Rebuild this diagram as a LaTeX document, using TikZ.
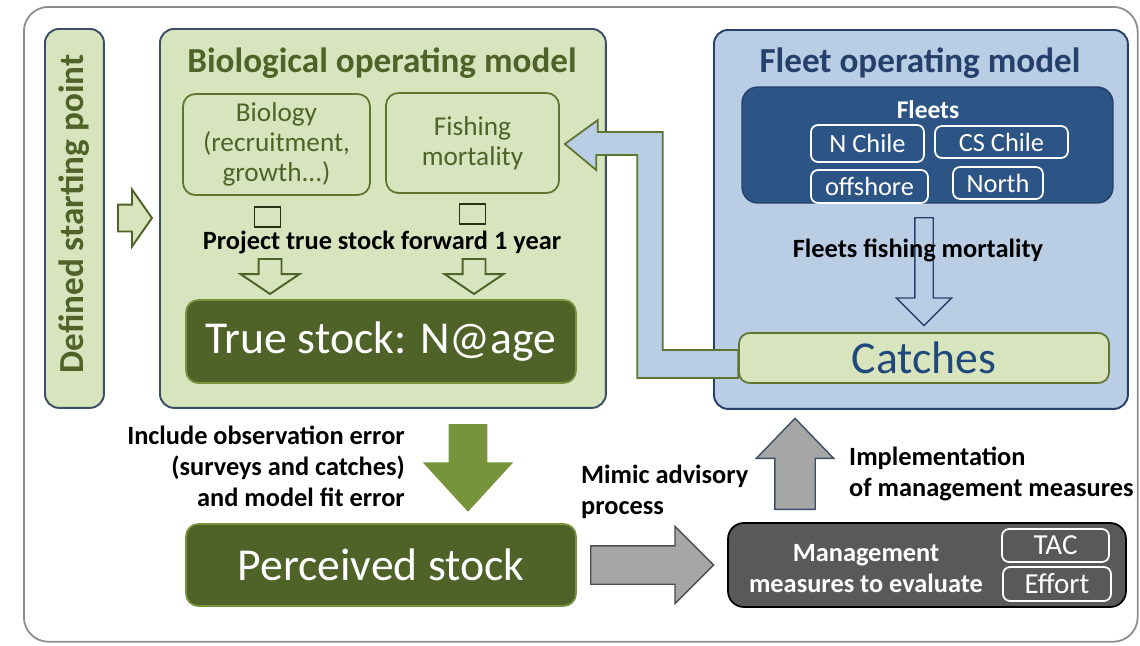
\documentclass[tikz,border=0pt]{standalone}
\usepackage{fontspec}
\setmainfont{Carlito}
\usetikzlibrary{arrows.meta,calc,positioning,shapes.arrows}
\definecolor{biofill}{RGB}{215,228,189}
\definecolor{olivetext}{RGB}{79,98,40}
\definecolor{oliveedge}{RGB}{94,117,50}
\definecolor{stockfill}{RGB}{79,98,40}
\definecolor{arrowgreen}{RGB}{119,147,60}
\definecolor{fleetfill}{RGB}{185,205,229}
\definecolor{fleetdark}{RGB}{44,84,133}
\definecolor{navy}{RGB}{37,64,107}
\definecolor{catchtext}{RGB}{31,73,125}
\definecolor{panelline}{RGB}{59,80,104}
\definecolor{greyarrow}{RGB}{166,166,166}
\definecolor{mgmtfill}{RGB}{89,89,89}
\definecolor{framegrey}{RGB}{140,140,140}

\begin{document}
\begin{tikzpicture}[x=0.02cm,y=-0.02cm,
  panel/.style={draw=panelline,line width=1.1pt,rounded corners=8pt},
  subbox/.style={draw=oliveedge,line width=1pt,rounded corners=7pt,fill=biofill,
    text=olivetext,align=center,font=\fontsize{15.5}{17}\selectfont},
  stock/.style={fill=stockfill,draw=arrowgreen,line width=1pt,rounded corners=7pt,
    text=white,font=\fontsize{26}{30}\selectfont},
  fleetbtn/.style={draw=white,line width=1pt,rounded corners=4pt,text=white,
    inner sep=0pt,font=\fontsize{15}{17}\selectfont},
  title/.style={font=\fontsize{20}{24}\selectfont\bfseries},
  note/.style={font=\fontsize{15}{17.6}\selectfont\bfseries},
  blockarrow/.style={single arrow,inner xsep=0pt,minimum width=0pt,
    single arrow head indent=0pt,line width=0.8pt,anchor=tail},
  hollow/.style={blockarrow,draw=olivetext,line width=1.1pt,fill=biofill},
  stub/.style={draw=olivetext!50!black,line width=0.7pt,minimum width=0.52cm,
    minimum height=0.4cm,inner sep=0pt}
]
  \useasboundingbox (0,0) rectangle (1140,646);
  % ---------------- frame ----------------
  \node[draw=framegrey,line width=1pt,rounded corners=14pt,minimum width=22.28cm,
    minimum height=12.7cm,anchor=north west] (frame) at (23,6) {};

  % ---------------- starting point ----------------
  \node[panel,fill=biofill,minimum width=1.18cm,minimum height=7.58cm,
    anchor=north west] (start) at (44,28) {};
  \node[rotate=90,text=olivetext,title] (starttxt) at (74,214)
    {Defined starting point};
  \node[hollow,minimum height=0.68cm,inner ysep=0.25cm,
    single arrow head extend=0.3cm,single arrow tip angle=110]
    (startarr) at (117,218) {};

  % ---------------- biological operating model ----------------
  \node[panel,fill=biofill,minimum width=8.92cm,minimum height=7.58cm,
    anchor=north west] (bio) at (159,28) {};
  \node[text=olivetext,title] (biotitle) at (382,63) {Biological operating model};
  \node[subbox,minimum width=3.74cm,minimum height=2.02cm] (biology)
    at (276.5,144.5) {Biology\\(recruitment,\\growth...)};
  \node[subbox,minimum width=3.46cm,minimum height=2.0cm] (fishing)
    at (472.5,143) {Fishing\\mortality};
  \node[stub] (stubA) at (267.5,217) {};
  \node[stub] (stubB) at (472.5,214) {};
  \node[note] (project) at (382,242) {Project true stock forward 1 year};
  \node[hollow,rotate=-90,minimum height=0.7cm,inner ysep=0.21cm,
    single arrow head extend=0.36cm,single arrow tip angle=112]
    (downA) at (270,258) {};
  \node[hollow,rotate=-90,minimum height=0.7cm,inner ysep=0.21cm,
    single arrow head extend=0.36cm,single arrow tip angle=112]
    (downB) at (474,258) {};
  \node[stock,minimum width=7.8cm,minimum height=1.66cm] (truestock)
    at (381,341.5) {True stock: N@age};

  % ---------------- fleet operating model ----------------
  \node[panel,draw=navy,fill=fleetfill,minimum width=8.28cm,minimum height=7.58cm,
    anchor=north west] (fleet) at (713,29) {};
  \node[text=navy,title] (fleettitle) at (920,63) {Fleet operating model};
  \node[fill=fleetdark,draw=navy,line width=0.8pt,rounded corners=9pt,
    minimum width=7.42cm,minimum height=2.32cm] (fleets) at (927.5,145) {};
  \node[text=white,font=\fontsize{14.5}{16}\selectfont\bfseries]
    (fleetstxt) at (928,110) {Fleets};
  \node[fleetbtn,minimum width=2.26cm,minimum height=0.74cm] (nchile)
    at (867.5,143.5) {N Chile};
  \node[fleetbtn,minimum width=2.66cm,minimum height=0.64cm] (cschile)
    at (1001.5,142) {CS Chile};
  \node[fleetbtn,minimum width=2.34cm,minimum height=0.66cm] (offshore)
    at (869.5,186.5) {offshore};
  \node[fleetbtn,minimum width=1.8cm,minimum height=0.64cm] (north)
    at (998,183) {North};
  \node[blockarrow,rotate=-90,draw=navy,fill=fleetfill,minimum height=2.16cm,
    inner ysep=0.17cm,single arrow head extend=0.37cm,single arrow tip angle=90]
    (fleetarr) at (924,217) {};
  \node[note] (fleetF) at (918,250) {Fleets fishing mortality};
  \node[subbox,text=catchtext,font=\fontsize{26}{30}\selectfont,
    rounded corners=6pt,minimum width=7.4cm,minimum height=1.0cm]
    (catches) at (924,358) {Catches};

  % catches fed back to fishing mortality
  \draw[draw=oliveedge,fill=fleetfill,line width=1pt]
    ($(fishing.east)+(5,1)$) -- ++(33,-24) -- ++(0,12) -- ++(65,0)
    -- ++(0,218) -- (catches.west |- 0,350) -- (catches.west |- 0,378)
    -- ++(-101,0) -- ++(0,-223) -- ++(-41,0) -- ++(0,15) -- cycle;

  % ---------------- perceived stock ----------------
  \node[note,anchor=east,align=right] (obserr) at (411,466)
    {Include observation error\\(surveys and catches)\\and model fit error};
  \node[blockarrow,rotate=-90,draw=arrowgreen,fill=arrowgreen,
    minimum height=1.72cm,inner ysep=0.36cm,single arrow head extend=0.5cm,
    single arrow tip angle=85] (greenarr) at (468,424) {};
  \node[stock,minimum width=7.8cm,minimum height=1.64cm] (perceived)
    at (381,565) {Perceived stock};

  % ---------------- management ----------------
  \node[note,anchor=west,align=left] (mimic) at (575,492)
    {Mimic advisory\\process};
  \node[blockarrow,draw=black!70,fill=greyarrow,minimum height=2.46cm,
    inner ysep=0.37cm,single arrow head extend=0.39cm,single arrow tip angle=90]
    (advarr) at (590,565) {};
  \node[blockarrow,rotate=90,draw=panelline,fill=greyarrow,minimum height=1.82cm,
    inner ysep=0.39cm,single arrow head extend=0.37cm,single arrow tip angle=88]
    (implarr) at (795,510) {};
  \node[note,anchor=west,align=left] (impl) at (843,474)
    {Implementation\\of management measures};
  \node[fill=mgmtfill,draw=black,line width=1pt,rounded corners=9pt,
    minimum width=7.96cm,minimum height=1.68cm] (mgmt) at (927,565) {};
  \node[text=white,align=center,font=\fontsize{15}{17.6}\selectfont\bfseries]
    (mgmttxt) at (866,569) {Management\\measures to evaluate};
  \node[fleetbtn,font=\fontsize{16.5}{18}\selectfont,minimum width=2.14cm,
    minimum height=0.66cm] (tac) at (1055.5,545.5) {TAC};
  \node[fleetbtn,font=\fontsize{16.5}{18}\selectfont,minimum width=2.16cm,
    minimum height=0.68cm] (effort) at (1057,584) {Effort};
\end{tikzpicture}
\end{document}
